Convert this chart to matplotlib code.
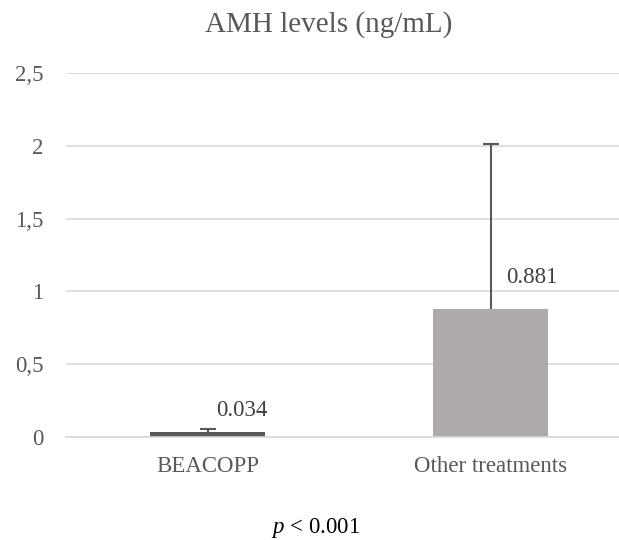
import matplotlib
matplotlib.use("Agg")
import matplotlib.pyplot as plt

categories = ["BEACOPP", "Other treatments"]
values = [0.034, 0.881]
errors = [0.020, 1.130]
value_labels = ["0.034", "0.881"]
bar_colors = ["#595959", "#AEAAAA"]
yticks = [0, 0.5, 1, 1.5, 2, 2.5]
ytick_labels = ["0", "0,5", "1", "1,5", "2", "2,5"]

plt.rcParams['font.family'] = ['Liberation Serif', 'DejaVu Serif']
plt.rcParams['mathtext.fontset'] = 'custom'
plt.rcParams['mathtext.it'] = 'Liberation Serif:italic'
plt.rcParams['mathtext.rm'] = 'Liberation Serif'
W, H = 619, 540
fig = plt.figure(figsize=(W / 100, H / 100), dpi=100)
left, right, bottom, top = 66, 619, 437, 73
ax = fig.add_axes([left / W, (H - bottom) / H, (right - left) / W, (bottom - top) / H])

x = list(range(len(categories)))
ax.bar(x, values, width=0.406, color=bar_colors, zorder=2)
tops = [v + e for v, e in zip(values, errors)]
ax.vlines(x, values, tops, colors='#595959', linewidth=1.5, zorder=3)
ax.plot(x, tops, linestyle='none', marker='_', markersize=12,
        markeredgewidth=1.5, color='#595959', zorder=3)

offsets = [(34, 22), (41, 31)]
for xi, v, lab, off in zip(x, values, value_labels, offsets):
    ax.annotate(lab, (xi, v), xytext=off, textcoords='offset pixels',
                ha='center', va='center', fontsize=16.5, color='#404040')

ax.set_xlim(-0.5, -0.5 + (right - left) / 283)
ax.set_ylim(0, 2.5)
ax.set_yticks(yticks)
ax.set_yticklabels(ytick_labels)
ax.set_xticks(x)
ax.set_xticklabels(categories)
ax.tick_params(axis='both', length=0, labelsize=16.5, labelcolor='#595959')
ax.tick_params(axis='y', pad=16)
ax.tick_params(axis='x', pad=14)
ax.grid(axis='y', color='#D9D9D9', linewidth=1.2, zorder=0)
for s in ['top', 'right', 'left']:
    ax.spines[s].set_visible(False)
ax.spines['bottom'].set_color('#D9D9D9')
ax.spines['bottom'].set_linewidth(1.2)

fig.text(329 / W, 1 - 25 / H, "AMH levels (ng/mL)", ha='center', va='center',
         fontsize=21, color='#595959')
fig.text(316 / W, 1 - 528 / H, r"$\mathit{p}$ < 0.001", ha='center', va='center',
         fontsize=16.5, color='black')

fig.savefig("out.png", dpi=100)
